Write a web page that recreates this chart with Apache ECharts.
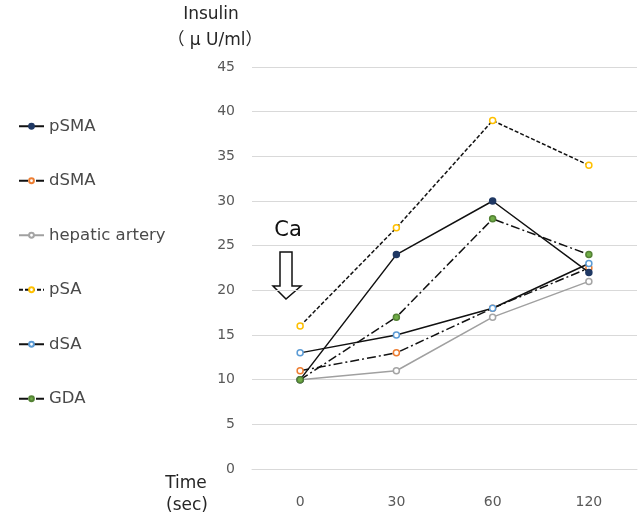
<!DOCTYPE html>
<html><head><meta charset="utf-8">
<script src="https://cdn.jsdelivr.net/npm/echarts@6/dist/echarts.min.js"></script>
<style>html,body{margin:0;padding:0;background:#fff}#c{width:641px;height:518px}</style>
</head><body><div id="c"></div>
<script>
var categories = ['0', '30', '60', '120'];
var pSMA = [10, 24, 30, 22];
var dSMA = [11, 13, 18, 22.5];
var hepatic = [10, 11, 17, 21];
var pSA = [16, 27, 39, 34];
var dSA = [13, 15, 18, 23];
var GDA = [10, 17, 28, 24];
var yTicks = [0, 45, 5];

var font = '"DejaVu Sans", "Noto Sans CJK JP", sans-serif';
function ser(name, data, lineColor, lineType, mColor, mFill, z) {
  return {
    name: name, type: 'line', data: data, symbol: 'circle', symbolSize: 6, z: z,
    lineStyle: {color: lineColor, width: 1.5, type: lineType},
    itemStyle: {color: mFill, borderColor: mColor, borderWidth: 1.5},
    emphasis: {disabled: true}
  };
}
var chart = echarts.init(document.getElementById('c'), null, {renderer: 'canvas'});
chart.setOption({
  animation: false,
  grid: {left: 252, right: 4, top: 67, bottom: 49},
  legend: {
    orient: 'vertical', left: 13, top: 113, itemGap: 38, itemWidth: 25, itemHeight: 6,
    textStyle: {fontFamily: font, fontSize: 16.5, color: '#4a4a4a'},
    data: ['pSMA', 'dSMA', 'hepatic artery', 'pSA', 'dSA', 'GDA']
  },
  xAxis: {
    type: 'category', data: categories, boundaryGap: true,
    axisLine: {lineStyle: {color: '#d9d9d9'}}, axisTick: {show: false},
    axisLabel: {fontFamily: font, fontSize: 14, color: '#595959', margin: 26}
  },
  yAxis: {
    type: 'value', min: yTicks[0], max: yTicks[1], interval: yTicks[2],
    axisLine: {show: false}, axisTick: {show: false},
    splitLine: {lineStyle: {color: '#d9d9d9', width: 1}},
    axisLabel: {fontFamily: font, fontSize: 14, color: '#595959', margin: 17}
  },
  graphic: [
    {type: 'text', x: 211, y: 6, style: {text: 'Insulin', fontFamily: font, fontSize: 17, fill: '#262626', align: 'center'}},
    {type: 'text', x: 215, y: 32, style: {text: '\uff08 \u03bc U/ml\uff09', fontFamily: font, fontSize: 17, fill: '#262626', align: 'center'}},
    {type: 'text', x: 186, y: 475, style: {text: 'Time', fontFamily: font, fontSize: 17, fill: '#262626', align: 'center'}},
    {type: 'text', x: 187, y: 497, style: {text: '(sec)', fontFamily: font, fontSize: 17, fill: '#262626', align: 'center'}},
    {type: 'text', x: 288, y: 220, style: {text: 'Ca', fontFamily: font, fontSize: 21, fill: '#111', align: 'center'}},
    {type: 'polygon', shape: {points: [[280,252],[292,252],[292,286],[301,286],[286,299],[273,286],[280,286]]},
     style: {fill: '#fff', stroke: '#111', lineWidth: 1.5}}
  ],
  series: [
    ser('pSMA', pSMA, '#111', 'solid', '#1f3864', '#1f3864', 6),
    ser('dSMA', dSMA, '#111', [9, 3, 2, 3], '#ed7d31', '#fff', 5),
    ser('hepatic artery', hepatic, '#a0a0a0', 'solid', '#a5a5a5', '#fff', 2),
    ser('pSA', pSA, '#111', [4, 2], '#ffc000', '#fff', 4),
    ser('dSA', dSA, '#111', 'solid', '#5b9bd5', '#fff', 5),
    ser('GDA', GDA, '#111', [9, 3, 2, 3], '#548235', '#70ad47', 7)
  ]
});
</script></body></html>
